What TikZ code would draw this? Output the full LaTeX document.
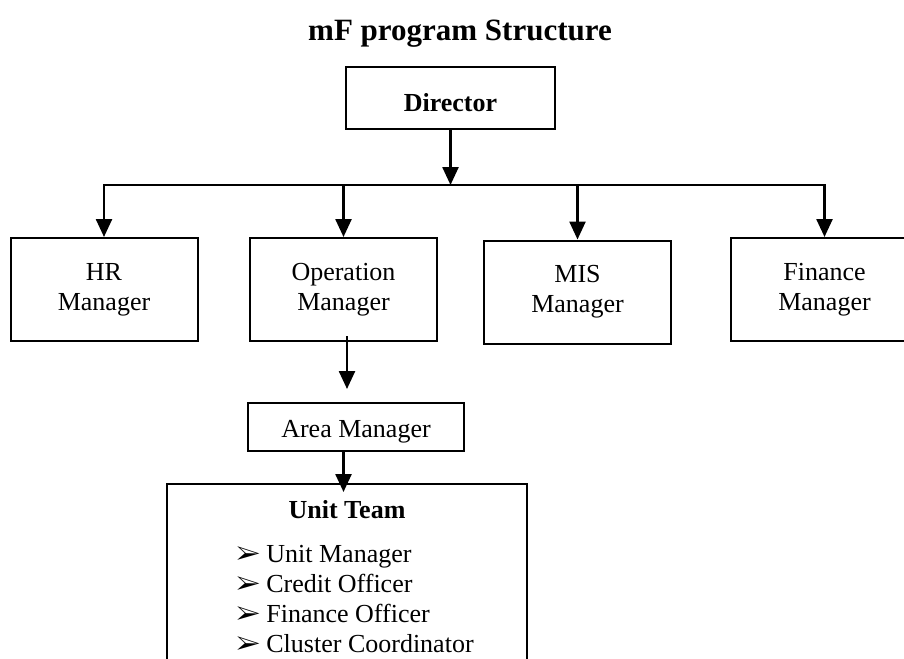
\documentclass[tikz,border=0pt]{standalone}
\usepackage{fontspec}
\usepackage{pifont}
\setmainfont{Liberation Serif}
\usetikzlibrary{positioning, arrows.meta}
\newcommand{\bodysize}{\fontsize{26}{30}\selectfont}
\tikzstyle{headbox} = [rectangle, minimum width=209pt, minimum height=62pt, text height=28pt, text depth=0pt, text centered, draw=black, line width=2pt, font=\bodysize\bfseries]
\tikzstyle{mgrbox} = [rectangle, minimum width=187pt, minimum height=103pt, align=center, draw=black, line width=2pt]
\tikzstyle{areabox} = [rectangle, minimum width=216pt, minimum height=48pt, text height=20pt, text depth=0pt, text centered, draw=black, line width=2pt]
\tikzstyle{teambox} = [rectangle, minimum width=360pt, inner ysep=16pt, text depth=220pt, align=center, anchor=north, draw=black, line width=2pt]
\tikzstyle{busline} = [line width=2.5pt, line cap=rect]
\tikzstyle{arrow} = [line width=2.5pt,-{Triangle[width=16pt,length=18pt]}]
\tikzstyle{every node}=[font=\bodysize, inner sep=0pt]
\newcommand{\pointer}{{\fontsize{26}{30}\selectfont\ding{226}}\hspace{6pt}}

\begin{document}
\begin{tikzpicture}[x=1pt,y=-1pt]
			\useasboundingbox (0,0) rectangle (904,658);
			\clip (0,0) rectangle (904,658);
			% boxes
			\node (title) at (460,41) [anchor=base, font=\fontsize{31}{36}\selectfont\bfseries] {mF program Structure};
			\node (director) at (450.5,98) [headbox] {Director};
			\coordinate (bus) at (450.5,185);
			\node (hr) at (104,289.5) [mgrbox] {HR\\Manager};
			\node (op) at (343.5,289.5) [mgrbox] {Operation\\Manager};
			\node (mis) at (577.5,292) [mgrbox] {MIS\\Manager};
			\node (fin) at (824.5,289.5) [mgrbox] {Finance\\Manager};
			\node (areamgr) at (356,427) [areabox] {Area Manager};
			\node (unit) at (347,483) [teambox] {\textbf{Unit Team}\\[14pt]\hspace*{16pt}\begin{tabular}[t]{@{}l@{}}
					\pointer Unit Manager\\
					\pointer Credit Officer\\
					\pointer Finance Officer\\
					\pointer Cluster Coordinator
				\end{tabular}};
			% connectors
			\draw [arrow](director) -- (bus);
			\draw [busline](hr |- bus) -- (fin |- bus);
			\foreach \n in {hr, op, mis, fin}
				\draw [arrow](\n |- bus) -- (\n);
			\draw [arrow]([xshift=3.5pt,yshift=6pt]op.south) -- ([xshift=3.5pt,yshift=13pt]op.south |- areamgr.north);
			\draw [arrow](areamgr.south -| op) -- ([yshift=-9pt]unit.north -| op);
		\end{tikzpicture}
\end{document}
